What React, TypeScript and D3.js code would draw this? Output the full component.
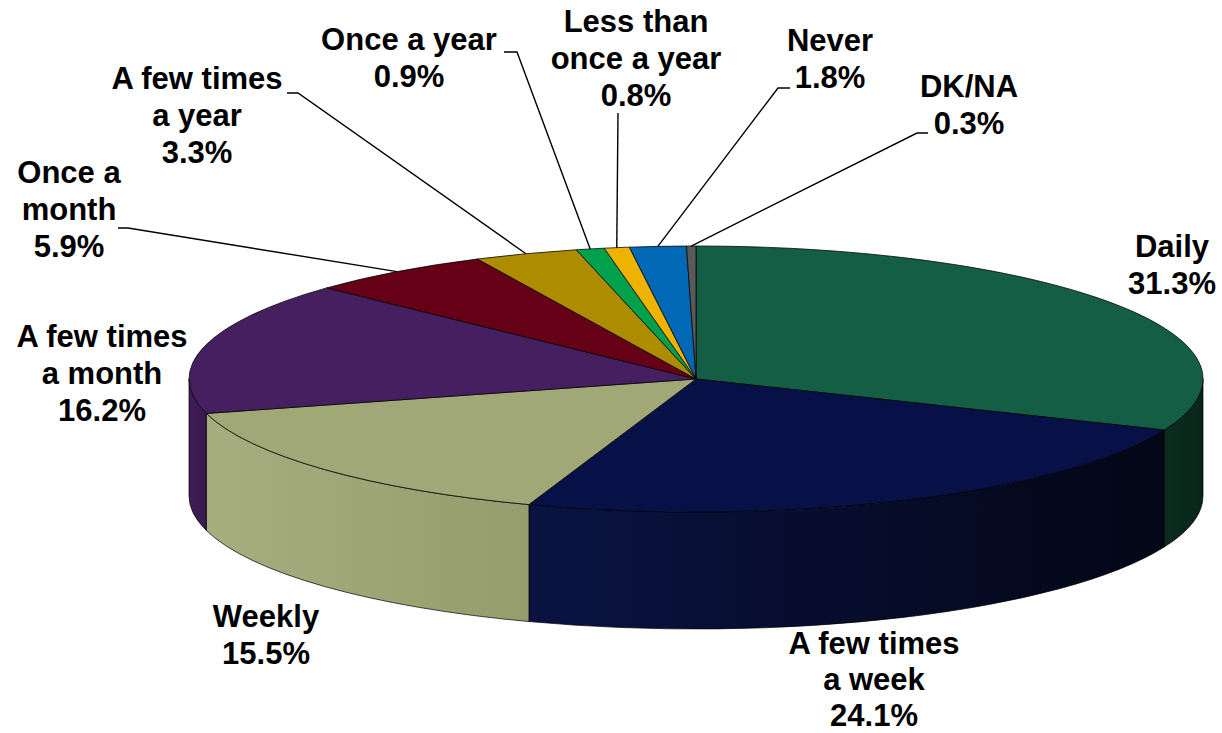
import { pie, arc } from "d3";

// Frequency shares (%), clockwise from 12 o'clock
const categories = [
  "Daily",
  "A few times a week",
  "Weekly",
  "A few times a month",
  "Once a month",
  "A few times a year",
  "Once a year",
  "Less than once a year",
  "Never",
  "DK/NA",
];
const shares = [31.3, 24.1, 15.5, 16.2, 5.9, 3.3, 0.9, 0.8, 1.8, 0.3];
const labelLines = [
  ["Daily"],
  ["A few times", "a week"],
  ["Weekly"],
  ["A few times", "a month"],
  ["Once a", "month"],
  ["A few times", "a year"],
  ["Once a year"],
  ["Less than", "once a year"],
  ["Never"],
  ["DK/NA"],
];

const topColors = [
  "#145e46",
  "#081048",
  "#a0a878",
  "#451f5f",
  "#660016",
  "#ad8c00",
  "#00a04c",
  "#eeb200",
  "#0068b4",
  "#5a5a5a",
];
// side walls: lighter on the left, darker on the right
const sideColors = [
  ["#0b2c1f", "#08251a"],
  ["#0a1242", "#030716"],
  ["#a6ae7f", "#959d6d"],
  ["#3f1d57", "#3a1a50"],
  ["#55000f", "#4a000c"],
  ["#8f7300", "#7d6400"],
  ["#00833e", "#007035"],
  ["#c89600", "#b08400"],
  ["#00569a", "#004a86"],
  ["#4a4a4a", "#404040"],
];

// label layout: centre x, first baseline, line gap, leader polyline (elbow, end)
const labelLayout: {
  x: number;
  y: number;
  gap?: number;
  leader?: [number, number][];
}[] = [
  { x: 1172, y: 257 },
  { x: 874, y: 654, gap: 36 },
  { x: 266, y: 627 },
  { x: 102, y: 347 },
  { x: 69, y: 183, leader: [[128, 228], [118, 228]] },
  { x: 197, y: 89, leader: [[298, 93], [287, 93]] },
  { x: 409, y: 50, leader: [[517, 52], [504, 52]] },
  { x: 636, y: 32, leader: [[618, 113]] },
  { x: 830, y: 51, leader: [[778, 88], [790, 88]] },
  { x: 969, y: 97, leader: [[917, 133], [928, 133]] },
];

const W = 1222;
const H = 733;
const cx = 696;
const cy = 379;
const rx = 507;
const ry = 133;
const depth = 117;
const fontSize = 31;
const lineHeight = 37;

const pt = (a: number, dy = 0): [number, number] => [
  cx + rx * Math.sin(a),
  cy - ry * Math.cos(a) + dy,
];

function sidePath(a0: number, a1: number) {
  const s = Math.max(a0, Math.PI / 2);
  const e = Math.min(a1, (3 * Math.PI) / 2);
  if (e <= s) return null;
  const [x0, y0] = pt(s);
  const [x1, y1] = pt(e);
  const [x2, y2] = pt(e, depth);
  const [x3, y3] = pt(s, depth);
  return `M${x0},${y0}A${rx},${ry} 0 0 1 ${x1},${y1}L${x2},${y2}A${rx},${ry} 0 0 0 ${x3},${y3}Z`;
}

export default function App() {
  const arcs = pie<number>()
    .sort(null)
    .value((d) => d)
    .startAngle(0)
    .endAngle(2 * Math.PI)(shares);

  const arcGen = arc<any>().innerRadius(0).outerRadius(rx);

  const font = "'Liberation Sans', Arial, Helvetica, sans-serif";

  return (
    <svg
      width={W}
      height={H}
      style={{ position: "absolute", left: 0, top: 0, background: "#fff" }}
    >
      <defs>
        {sideColors.map((c, i) => (
          <linearGradient key={i} id={`side${i}`} x1="0" x2="1" y1="0" y2="0">
            <stop offset="0" stopColor={c[0]} />
            <stop offset="1" stopColor={c[1]} />
          </linearGradient>
        ))}
      </defs>

      {/* side walls */}
      {arcs.map((a, i) => {
        const d = sidePath(a.startAngle, a.endAngle);
        return d ? (
          <path
            key={`s${i}`}
            d={d}
            fill={`url(#side${i})`}
            stroke="#000"
            strokeOpacity={0.7}
            strokeWidth={1}
            strokeLinejoin="round"
          />
        ) : null;
      })}

      {/* top face */}
      <g transform={`translate(${cx},${cy}) scale(1,${ry / rx})`}>
        {arcs.map((a, i) => (
          <path
            key={`t${i}`}
            d={arcGen(a) ?? ""}
            fill={topColors[i]}
            stroke="#000"
            strokeOpacity={0.75}
            strokeWidth={1}
            vectorEffect="non-scaling-stroke"
            strokeLinejoin="round"
          />
        ))}
      </g>

      {/* leader lines */}
      {arcs.map((a, i) => {
        const lay = labelLayout[i];
        if (!lay.leader) return null;
        const start = pt((a.startAngle + a.endAngle) / 2);
        const pts = [start, ...lay.leader];
        return (
          <polyline
            key={`l${i}`}
            points={pts.map((p) => p.join(",")).join(" ")}
            fill="none"
            stroke="#000"
            strokeWidth={1.4}
          />
        );
      })}

      {/* labels */}
      {categories.map((c, i) => {
        const lay = labelLayout[i];
        const gap = lay.gap ?? lineHeight;
        const lines = [...labelLines[i], `${shares[i].toFixed(1)}%`];
        return (
          <text
            key={c}
            x={lay.x}
            y={lay.y}
            textAnchor="middle"
            fontFamily={font}
            fontWeight="bold"
            fontSize={fontSize}
            fill="#000"
          >
            {lines.map((t, j) => (
              <tspan key={j} x={lay.x} y={lay.y + j * gap}>
                {t}
              </tspan>
            ))}
          </text>
        );
      })}
    </svg>
  );
}
